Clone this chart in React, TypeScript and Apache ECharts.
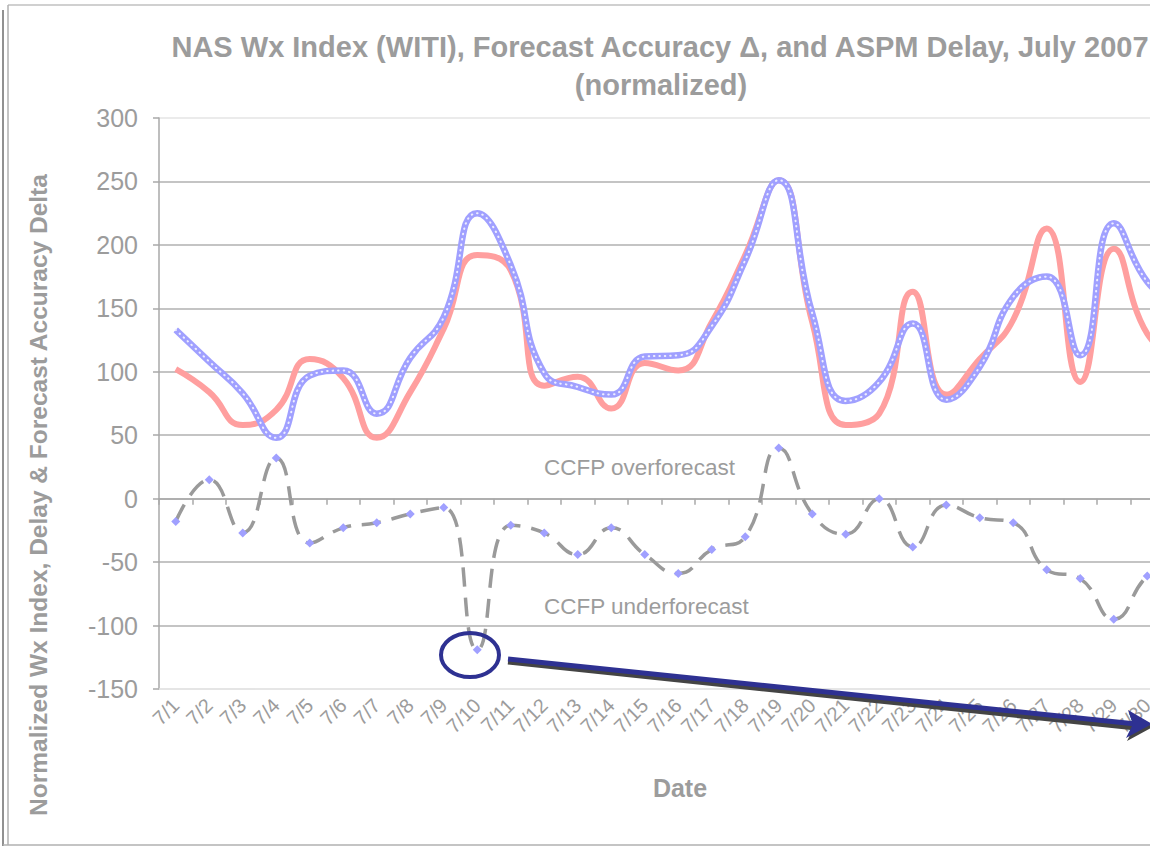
import React, { useEffect, useRef } from 'react';
import * as echarts from 'echarts';

const dates = ['7/1','7/2','7/3','7/4','7/5','7/6','7/7','7/8','7/9','7/10','7/11','7/12','7/13','7/14','7/15','7/16','7/17','7/18','7/19','7/20','7/21','7/22','7/23','7/24','7/25','7/26','7/27','7/28','7/29','7/30','7/31'];

const witiIndex = [102, 84, 58, 70, 110, 95, 48, 84, 134, 192, 180, 89, 96, 71, 107, 101, 139, 192, 251, 139, 58, 67, 163, 82, 110, 141, 213, 92, 197, 130, 110];
const aspmDelay = [133, 108, 83, 48, 97, 101, 67, 111, 143, 225, 184, 99, 88, 82, 112, 113, 136, 188, 251, 146, 77, 92, 138, 78, 104, 159, 175, 113, 217, 171, 150];
const forecastDelta = [-18, 15, -27, 32, -35, -23, -19, -12, -7, -119, -21, -27, -44, -23, -44, -59, -40, -30, 40, -12, -28, 0, -38, -5, -15, -19, -56, -63, -95, -61, -45];

const yTicks = [-150, -100, -50, 0, 50, 100, 150, 200, 250, 300];

const titleLine1 = 'NAS Wx Index (WITI), Forecast Accuracy Δ, and ASPM Delay, July 2007';
const titleLine2 = '(normalized)';
const yName = 'Normalized Wx Index, Delay & Forecast Accuracy Delta';
const xName = 'Date';
const noteOver = 'CCFP overforecast';
const noteUnder = 'CCFP underforecast';

const FONT = '"Liberation Sans", Arial, sans-serif';
const TXT = '#9c9c9c';
const NAVY = '#2E3192';

export default function App() {
  const ref = useRef<HTMLDivElement>(null);
  useEffect(() => {
    if (!ref.current) return;
    const chart = echarts.init(ref.current, null, { renderer: 'svg' });
    const splitColors = yTicks.map((v, i) => (i === 0 || i === yTicks.length - 1 ? '#e4e4e4' : '#b0b0b0'));
    chart.setOption({
      animation: false,
      backgroundColor: '#ffffff',
      grid: { left: 159, top: 118, bottom: 159, width: 1038.5 },
      xAxis: [
        {
          type: 'category',
          data: dates,
          position: 'bottom',
          boundaryGap: true,
          axisLine: { onZero: false, lineStyle: { color: '#e4e4e4', width: 1.5 } },
          axisTick: { show: false },
          axisLabel: { rotate: 45, interval: 0, fontSize: 20, color: TXT, fontFamily: FONT, margin: 13 },
          splitLine: { show: false },
        },
        {
          type: 'category',
          data: dates,
          position: 'bottom',
          boundaryGap: true,
          axisLine: { onZero: true, lineStyle: { color: '#a8a8a8', width: 1.5 } },
          axisTick: { show: true, length: 6, lineStyle: { color: '#a8a8a8', width: 1.5 } },
          axisLabel: { show: false },
          splitLine: { show: false },
        },
      ],
      yAxis: {
        type: 'value',
        min: -150,
        max: 300,
        interval: 50,
        axisLine: { show: true, lineStyle: { color: '#a8a8a8', width: 1.5 } },
        axisTick: { show: true, length: 6, lineStyle: { color: '#a8a8a8', width: 1.5 } },
        axisLabel: { fontSize: 25, color: TXT, fontFamily: FONT, margin: 21 },
        splitLine: { show: true, lineStyle: { color: splitColors, width: 1.5 } },
      },
      series: [
        {
          name: 'WITI',
          type: 'line',
          data: witiIndex,
          smooth: 0.5,
          showSymbol: false,
          lineStyle: { color: '#ff9f9f', width: 6 },
          itemStyle: { color: '#ff9f9f' },
          z: 2,
        },
        {
          name: 'ASPM Delay',
          type: 'line',
          data: aspmDelay,
          smooth: 0.5,
          showSymbol: false,
          lineStyle: { color: '#a0a0ff', width: 6.5 },
          itemStyle: { color: '#a0a0ff' },
          z: 3,
        },
        {
          name: 'ASPM Delay dots',
          type: 'line',
          data: aspmDelay,
          smooth: 0.5,
          showSymbol: false,
          silent: true,
          lineStyle: { color: '#eeeeff', width: 2, type: [0.5, 5], cap: 'round' },
          z: 4,
        },
        {
          name: 'Forecast Accuracy Δ',
          type: 'line',
          data: forecastDelta,
          smooth: 0.5,
          symbol: 'diamond',
          symbolSize: 9,
          showSymbol: true,
          lineStyle: { color: '#9a9a9a', width: 3.5, type: [19, 11] },
          itemStyle: { color: '#a0a0ff' },
          z: 5,
        },
      ],
      graphic: [
        { type: 'line', shape: { x1: 3, y1: 10, x2: 3, y2: 846 }, style: { stroke: '#222', lineWidth: 1 } },
        { type: 'line', shape: { x1: 8, y1: 5, x2: 1200, y2: 5 }, style: { stroke: '#c0c0c0', lineWidth: 1.5 } },
        { type: 'line', shape: { x1: 8, y1: 5, x2: 8, y2: 845 }, style: { stroke: '#b0b0b0', lineWidth: 1.5 } },
        { type: 'line', shape: { x1: 3, y1: 845, x2: 1200, y2: 845 }, style: { stroke: '#b0b0b0', lineWidth: 1.5 } },
        { type: 'text', x: 660, y: 47, style: { text: titleLine1, fontSize: 29, fontWeight: 'bold', fontFamily: FONT, fill: TXT, align: 'center', verticalAlign: 'middle' } },
        { type: 'text', x: 661, y: 85, style: { text: titleLine2, fontSize: 29, fontWeight: 'bold', fontFamily: FONT, fill: TXT, align: 'center', verticalAlign: 'middle' } },
        { type: 'text', x: 38, y: 495, rotation: Math.PI / 2, style: { text: yName, fontSize: 24.5, fontWeight: 'bold', fontFamily: FONT, fill: TXT, align: 'center', verticalAlign: 'middle' } },
        { type: 'text', x: 680, y: 788, style: { text: xName, fontSize: 25, fontWeight: 'bold', fontFamily: FONT, fill: TXT, align: 'center', verticalAlign: 'middle' } },
        { type: 'text', x: 544, y: 467, style: { text: noteOver, fontSize: 22.5, fontFamily: FONT, fill: TXT, align: 'left', verticalAlign: 'middle' } },
        { type: 'text', x: 544, y: 606, style: { text: noteUnder, fontSize: 22.5, fontFamily: FONT, fill: TXT, align: 'left', verticalAlign: 'middle' } },
        { type: 'ellipse', shape: { cx: 470, cy: 655, rx: 29, ry: 22 }, style: { fill: 'none', stroke: NAVY, lineWidth: 4 }, z: 100 },
        { type: 'line', shape: { x1: 508, y1: 662, x2: 1136, y2: 728 }, style: { stroke: '#444', lineWidth: 5 }, z: 100 },
        { type: 'polygon', shape: { points: [[1153, 727], [1129, 713], [1134, 727], [1127, 741]] }, style: { fill: '#444' }, z: 100 },
        { type: 'line', shape: { x1: 508, y1: 659, x2: 1136, y2: 724 }, style: { stroke: NAVY, lineWidth: 5 }, z: 101 },
        { type: 'polygon', shape: { points: [[1152, 724], [1128, 710], [1133, 724], [1126, 738]] }, style: { fill: NAVY }, z: 101 },
      ],
    });
    return () => chart.dispose();
  }, []);
  return (
    <div style={{ position: 'fixed', left: 0, top: 0, width: 1150, height: 848, overflow: 'hidden', background: '#fff' }}>
      <div ref={ref} style={{ width: 1200, height: 848 }} />
    </div>
  );
}
